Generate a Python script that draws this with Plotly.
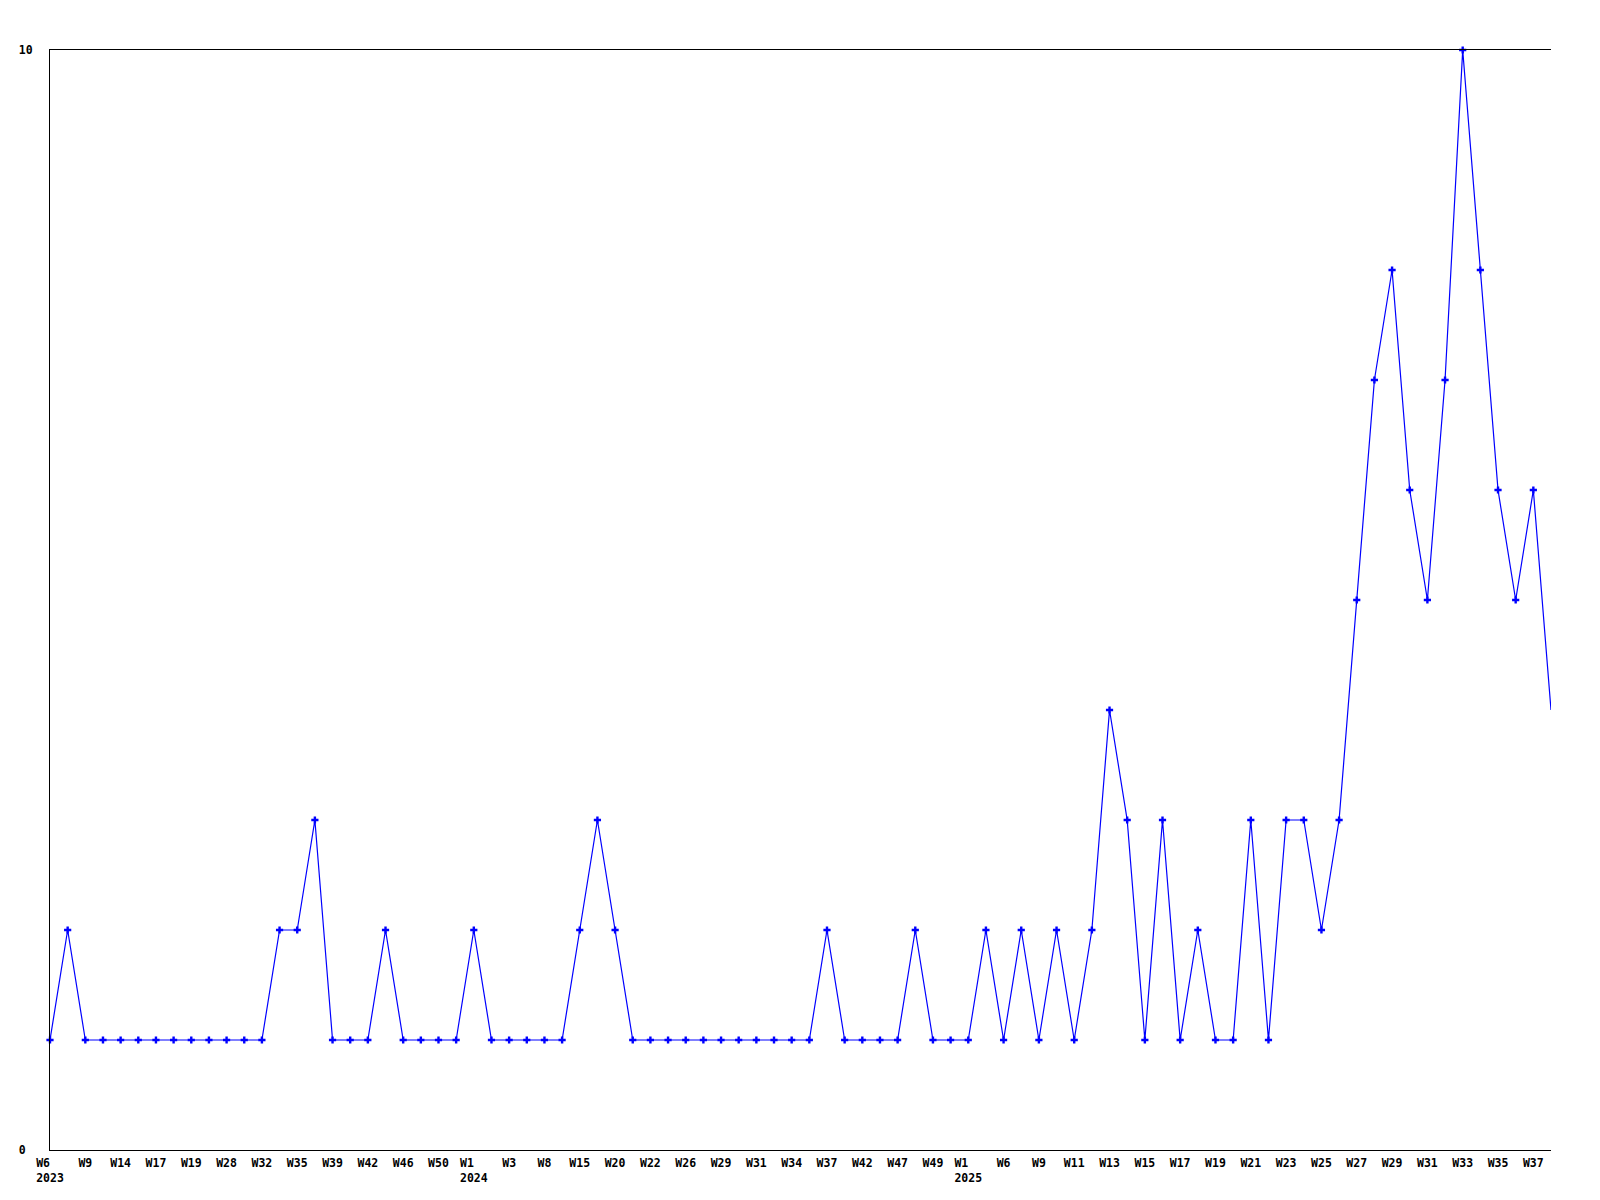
import plotly.graph_objects as go

categories = [
    "2023-W06", "2023-W07", "2023-W09", "2023-W11", "2023-W14", "2023-W15", "2023-W17", "2023-W18",
    "2023-W19", "2023-W24", "2023-W28", "2023-W30", "2023-W32", "2023-W33", "2023-W35", "2023-W36",
    "2023-W39", "2023-W40", "2023-W42", "2023-W44", "2023-W46", "2023-W48", "2023-W50", "2023-W51",
    "2024-W01", "2024-W02", "2024-W03", "2024-W05", "2024-W08", "2024-W11", "2024-W15", "2024-W16",
    "2024-W20", "2024-W21", "2024-W22", "2024-W24", "2024-W26", "2024-W27", "2024-W29", "2024-W30",
    "2024-W31", "2024-W33", "2024-W34", "2024-W35", "2024-W37", "2024-W39", "2024-W42", "2024-W44",
    "2024-W47", "2024-W48", "2024-W49", "2024-W51", "2025-W01", "2025-W03", "2025-W06", "2025-W07",
    "2025-W09", "2025-W10", "2025-W11", "2025-W12", "2025-W13", "2025-W14", "2025-W15", "2025-W16",
    "2025-W17", "2025-W18", "2025-W19", "2025-W20", "2025-W21", "2025-W22", "2025-W23", "2025-W24",
    "2025-W25", "2025-W26", "2025-W27", "2025-W28", "2025-W29", "2025-W30", "2025-W31", "2025-W32",
    "2025-W33", "2025-W34", "2025-W35", "2025-W36", "2025-W37", "2025-W38",
]

values = [
    1, 2, 1, 1, 1, 1, 1, 1, 1, 1, 1, 1, 1, 2, 2, 3,
    1, 1, 1, 2, 1, 1, 1, 1, 2, 1, 1, 1, 1, 1, 2, 3,
    2, 1, 1, 1, 1, 1, 1, 1, 1, 1, 1, 1, 2, 1, 1, 1,
    1, 2, 1, 1, 1, 2, 1, 2, 1, 2, 1, 2, 4, 3, 1, 3,
    1, 2, 1, 1, 3, 1, 3, 3, 2, 3, 5, 7, 8, 6, 5, 7,
    10, 8, 6, 5, 6, 4,
]

y_tick_values = [0, 10]
y_tick_labels = ["0\u00a0", "10"]

# x tick labels: every second category, year shown at the first tick of each year
tick_cats = categories[::2]
tick_labels = []
prev_year = None
for c in tick_cats:
    year, wk = c.split("-W")
    w = "W" + str(int(wk))
    if year != prev_year:
        tick_labels.append(w + "\u00a0" * (4 - len(w)) + "<br>" + year)
    else:
        tick_labels.append(w)
    prev_year = year

BLUE = "#0000ff"
fig = go.Figure()
fig.add_trace(go.Scatter(
    x=categories, y=values, mode="lines",
    line=dict(color=BLUE, width=1.2), cliponaxis=False, hoverinfo="skip",
))
fig.add_trace(go.Scatter(
    x=categories[:-1], y=values[:-1], mode="markers",
    marker=dict(color=BLUE, symbol="cross", size=6, line=dict(width=0)),
    cliponaxis=False,
))

tfont = dict(family="DejaVu Sans Mono", size=11.5, color="black", weight="bold")
fig.update_layout(
    width=1600, height=1200,
    margin=dict(l=50, r=49, t=50, b=50, pad=0),
    paper_bgcolor="white", plot_bgcolor="white",
    showlegend=False,
    font=dict(family="DejaVu Sans Mono", size=11.5, color="black"),
    xaxis=dict(
        type="category", categoryorder="array", categoryarray=categories,
        range=[0, len(categories) - 1], automargin=False,
        tickmode="array", tickvals=tick_cats, ticktext=tick_labels,
        showgrid=False, zeroline=False, showline=True, mirror=True,
        linecolor="black", linewidth=1,
        ticks="", ticklabelstandoff=2, tickangle=0, tickfont=tfont,
    ),
    yaxis=dict(
        range=[0, 10], automargin=False,
        tickmode="array", tickvals=y_tick_values, ticktext=y_tick_labels,
        showgrid=False, zeroline=False,
        showline=True, linecolor="black", linewidth=1,
        ticks="", ticklabelstandoff=14, tickfont=tfont,
    ),
)

fig.write_html("out.html", config={"displayModeBar": False},
               post_script="document.body.style.margin='0';")
